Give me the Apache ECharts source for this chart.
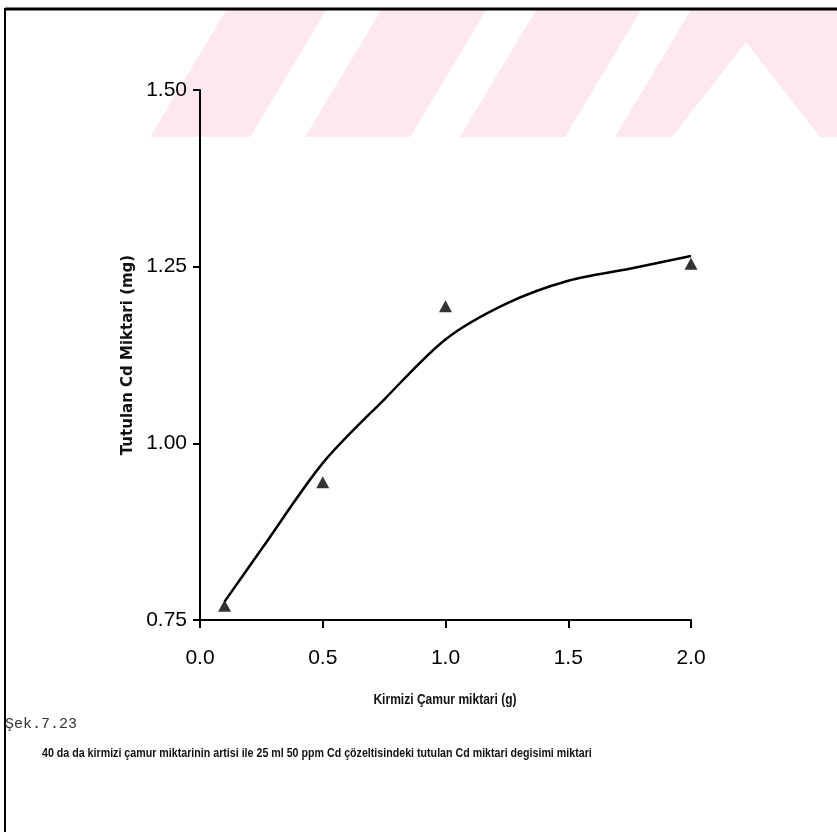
<!DOCTYPE html>
<html>
<head>
<meta charset="utf-8">
<style>
  html, body { margin: 0; padding: 0; background: #fff; }
  #chart { width: 837px; height: 832px; }
</style>
<script src="https://cdn.jsdelivr.net/npm/echarts@6/dist/echarts.min.js"></script>
</head>
<body>
<div id="chart"></div>
<script>
// Measured retention: red mud amount (g) vs. retained Cd (mg)
const mudAmount = [0.1, 0.5, 1.0, 2.0];
const retainedCd = [0.77, 0.945, 1.194, 1.254];

// Fitted trend curve, sampled along the x range
const curveX = [0.1, 0.25, 0.5, 0.75, 1.0, 1.25, 1.5, 1.75, 2.0];
const curveY = [0.776, 0.850, 0.972, 1.062, 1.147, 1.198, 1.230, 1.247, 1.265];

const xTicks = ['0.0', '0.5', '1.0', '1.5', '2.0'];
const yTicks = ['0.75', '1.00', '1.25', '1.50'];

const yTitle = 'Tutulan Cd Miktari (mg)';
const xTitle = 'Kirmizi Çamur miktari (g)';
const figLabel = 'Şek.7.23';
const figCaption = '40 da da kirmizi çamur miktarinin artisi ile 25 ml 50 ppm Cd çözeltisindeki tutulan Cd miktari degisimi miktari';

const chart = echarts.init(document.getElementById('chart'), null, { renderer: 'canvas' });

const sans = '"Liberation Sans", Arial, sans-serif';
const pink = '#fde8ed';

// faint diagonal banner across the top of the page
function band(x0, x1, yTop, yBot, slope) {
  const d = (yBot - yTop) * slope;
  return [[x0, yBot], [x1, yBot], [x1 + d, yTop], [x0 + d, yTop]];
}
const bannerTop = 10, bannerBot = 137, slope = 0.6;
const banner = [
  band(150, 250, bannerTop, bannerBot, slope),
  band(305, 410, bannerTop, bannerBot, slope),
  band(460, 565, bannerTop, bannerBot, slope)
].map(pts => ({
  type: 'polygon', z: -10, silent: true,
  shape: { points: pts }, style: { fill: pink }
}));
// chevron on the right with a white triangular notch
banner.push({
  type: 'polygon', z: -10, silent: true,
  shape: { points: [[615, bannerBot], [837, bannerBot], [837, bannerTop], [691, bannerTop]] },
  style: { fill: pink }
});
banner.push({
  type: 'polygon', z: -9, silent: true,
  shape: { points: [[672, bannerBot], [746, 42], [820, bannerBot]] },
  style: { fill: '#ffffff' }
});

const option = {
  backgroundColor: '#ffffff',
  animation: false,
  grid: { left: 200, right: 146, top: 90, bottom: 212, containLabel: false },
  xAxis: {
    type: 'value', min: 0, max: 2, interval: 0.5,
    axisLine: { show: true, lineStyle: { color: '#000', width: 2 } },
    axisTick: { show: true, length: 8, lineStyle: { color: '#000', width: 2 } },
    axisLabel: {
      margin: 28, fontFamily: sans, fontSize: 21, color: '#000',
      formatter: (v) => xTicks[Math.round(v / 0.5)]
    },
    splitLine: { show: false }
  },
  yAxis: {
    type: 'value', min: 0.75, max: 1.5, interval: 0.25,
    name: yTitle, nameLocation: 'middle', nameGap: 63, nameRotate: 90,
    nameTextStyle: { fontFamily: '"DejaVu Sans", sans-serif', fontWeight: 'bold', fontSize: 15, color: '#111' },
    axisLine: { show: true, lineStyle: { color: '#000', width: 2 } },
    axisTick: { show: true, length: 7, lineStyle: { color: '#000', width: 2 } },
    axisLabel: {
      margin: 13, fontFamily: sans, fontSize: 21, color: '#000',
      formatter: (v) => yTicks[Math.round((v - 0.75) / 0.25)]
    },
    splitLine: { show: false }
  },
  series: [
    {
      type: 'line', smooth: 0.3, symbol: 'none',
      data: curveX.map((x, i) => [x, curveY[i]]),
      lineStyle: { color: '#000', width: 2.5 },
      z: 3
    },
    {
      type: 'scatter', symbol: 'triangle', symbolSize: [13, 12],
      data: mudAmount.map((x, i) => [x, retainedCd[i]]),
      itemStyle: { color: '#000' },
      z: 4
    }
  ],
  graphic: banner.concat([
    // page frame
    { type: 'line', silent: true, shape: { x1: 5, y1: 9, x2: 837, y2: 9 }, style: { stroke: '#000', lineWidth: 3 } },
    { type: 'line', silent: true, shape: { x1: 5, y1: 8, x2: 5, y2: 832 }, style: { stroke: '#000', lineWidth: 2 } },
    // x axis title, condensed
    {
      type: 'text', x: 445, y: 700, scaleX: 0.86, silent: true,
      style: { text: xTitle, font: 'bold 14px ' + sans, fill: '#111', align: 'center', verticalAlign: 'middle' }
    },
    // figure number and caption
    {
      type: 'text', x: 5, y: 724, silent: true,
      style: { text: figLabel, font: '15px "Liberation Mono", "DejaVu Sans Mono", monospace', fill: '#333', verticalAlign: 'middle' }
    },
    {
      type: 'text', x: 42, y: 753, scaleX: 0.82, silent: true,
      style: { text: figCaption, font: 'bold 13px ' + sans, fill: '#111', verticalAlign: 'middle' }
    }
  ])
};

chart.setOption(option);
</script>
</body>
</html>
